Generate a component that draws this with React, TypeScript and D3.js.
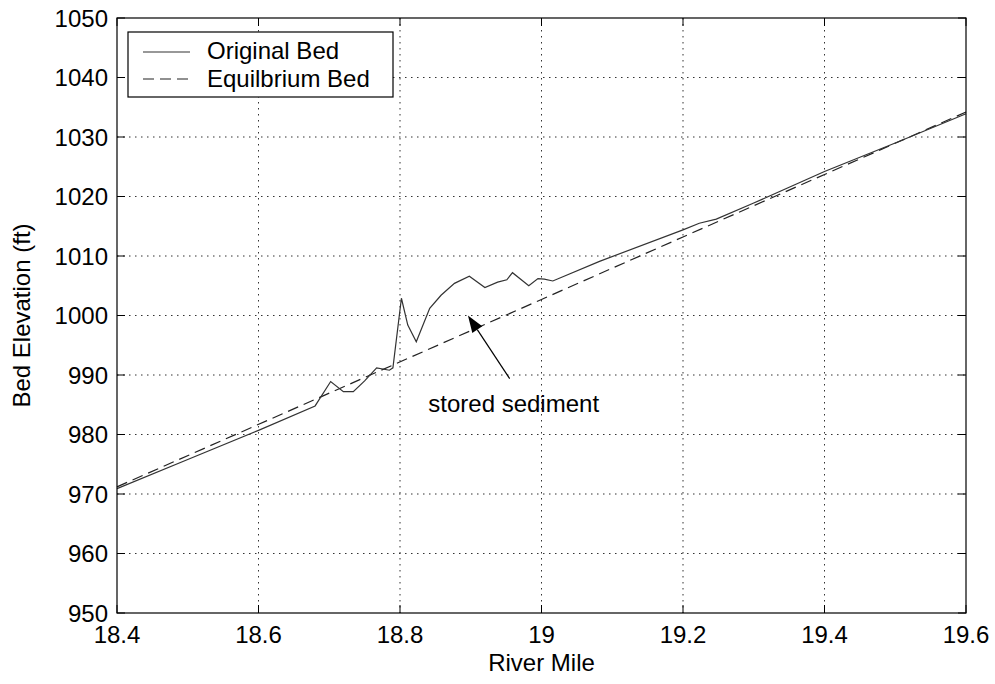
import { line, range, scaleLinear } from "d3";

// river mile / elevation
const originalMile = [
  18.4, 18.5, 18.6, 18.68, 18.702, 18.72, 18.734, 18.75, 18.767, 18.785, 18.79,
  18.802, 18.811, 18.823, 18.842, 18.858, 18.877, 18.898, 18.92, 18.938, 18.951,
  18.959, 18.982, 18.995, 19.004, 19.016, 19.082, 19.2, 19.223, 19.247, 19.3,
  19.4, 19.5, 19.6,
];
const originalElev = [
  970.9, 975.8, 980.7, 984.8, 988.9, 987.2, 987.2, 989.0, 991.2, 990.8, 991.2,
  1002.9, 998.4, 995.6, 1001.2, 1003.4, 1005.4, 1006.6, 1004.7, 1005.6, 1006.0,
  1007.2, 1005.0, 1006.2, 1006.1, 1005.8, 1009.1, 1014.4, 1015.5, 1016.2, 1018.9,
  1024.2, 1029.0, 1033.9,
];
const equilMile = [18.4, 19.0, 19.2, 19.6];
const equilElev = [971.2, 1002.7, 1013.2, 1034.2];

const xTicks = [18.4, 18.6, 18.8, 19, 19.2, 19.4, 19.6];
const yTicks = range(950, 1051, 10);
const legendLabels = ["Original Bed", "Equilbrium Bed"];

// annotation: arrow tail/tip and text anchor in data units
const arrowFrom = [18.955, 989.4];
const arrowTo = [18.896, 1000.0];
const noteAt = [18.84, 983.8];

const W = 995;
const H = 684;
const left = 117;
const right = 966;
const top = 18;
const bottom = 613;
const font = "'Liberation Sans', Arial, Helvetica, sans-serif";

const x = scaleLinear().domain([18.4, 19.6]).range([left, right]);
const y = scaleLinear().domain([950, 1050]).range([bottom, top]);

const toPts = (xs: number[], ys: number[]) => xs.map((m, i) => [m, ys[i]] as [number, number]);

const path = line<[number, number]>()
  .x((d) => x(d[0]))
  .y((d) => y(d[1]));

export default function App() {
  const ax = x(arrowFrom[0]);
  const ay = y(arrowFrom[1]);
  const bx = x(arrowTo[0]);
  const by = y(arrowTo[1]);
  const ang = Math.atan2(by - ay, bx - ax);
  const headLen = 17;
  const headW = 6;
  const hx = bx - headLen * Math.cos(ang);
  const hy = by - headLen * Math.sin(ang);
  const px = -Math.sin(ang) * headW;
  const py = Math.cos(ang) * headW;

  return (
    <div style={{ position: "absolute", left: 0, top: 0 }}>
      <svg width={W} height={H} style={{ display: "block", background: "#fff" }}>
        <g fontFamily={font} fontSize={24} fill="#000">
          {/* grid */}
          {xTicks.slice(1, -1).map((t) => (
            <line key={"gx" + t} x1={x(t)} x2={x(t)} y1={top} y2={bottom}
              stroke="#333" strokeWidth={1} strokeDasharray="1.5,4.5" />
          ))}
          {yTicks.slice(1, -1).map((t) => (
            <line key={"gy" + t} x1={left} x2={right} y1={y(t)} y2={y(t)}
              stroke="#333" strokeWidth={1} strokeDasharray="1.5,4.5" />
          ))}

          {/* ticks inward on all sides */}
          {xTicks.map((t) => (
            <g key={"tx" + t}>
              <line x1={x(t)} x2={x(t)} y1={bottom} y2={bottom - 8} stroke="#000" />
              <line x1={x(t)} x2={x(t)} y1={top} y2={top + 8} stroke="#000" />
              <text x={x(t)} y={bottom + 30} textAnchor="middle">{String(t)}</text>
            </g>
          ))}
          {yTicks.map((t) => (
            <g key={"ty" + t}>
              <line x1={left} x2={left + 8} y1={y(t)} y2={y(t)} stroke="#000" />
              <line x1={right} x2={right - 8} y1={y(t)} y2={y(t)} stroke="#000" />
              <text x={left - 9} y={y(t)} dy="0.36em" textAnchor="end">{t}</text>
            </g>
          ))}

          {/* data */}
          <path d={path(toPts(equilMile, equilElev)) || ""} fill="none" stroke="#222"
            strokeWidth={1.2} strokeDasharray="11,6" />
          <path d={path(toPts(originalMile, originalElev)) || ""} fill="none" stroke="#333"
            strokeWidth={1.2} />

          {/* annotation */}
          <line x1={ax} y1={ay} x2={hx} y2={hy} stroke="#000" strokeWidth={1.2} />
          <polygon points={`${bx},${by} ${hx + px},${hy + py} ${hx - px},${hy - py}`} fill="#000" />
          <text x={x(noteAt[0])} y={y(noteAt[1])}>stored sediment</text>

          {/* frame */}
          <rect x={left} y={top} width={right - left} height={bottom - top}
            fill="none" stroke="#000" strokeWidth={1.2} />

          {/* legend */}
          <rect x={128} y={32} width={265} height={65} fill="#fff" stroke="#000" strokeWidth={1.2} />
          <line x1={143} x2={190} y1={52} y2={52} stroke="#333" strokeWidth={1.2} />
          <line x1={143} x2={190} y1={79} y2={79} stroke="#222" strokeWidth={1.2} strokeDasharray="11,6" />
          <text x={207} y={59}>{legendLabels[0]}</text>
          <text x={207} y={87}>{legendLabels[1]}</text>

          {/* axis titles */}
          <text x={(left + right) / 2} y={671} textAnchor="middle">River Mile</text>
          <text transform={`translate(30,${(top + bottom) / 2}) rotate(-90)`} textAnchor="middle">
            Bed Elevation (ft)
          </text>
        </g>
      </svg>
    </div>
  );
}
